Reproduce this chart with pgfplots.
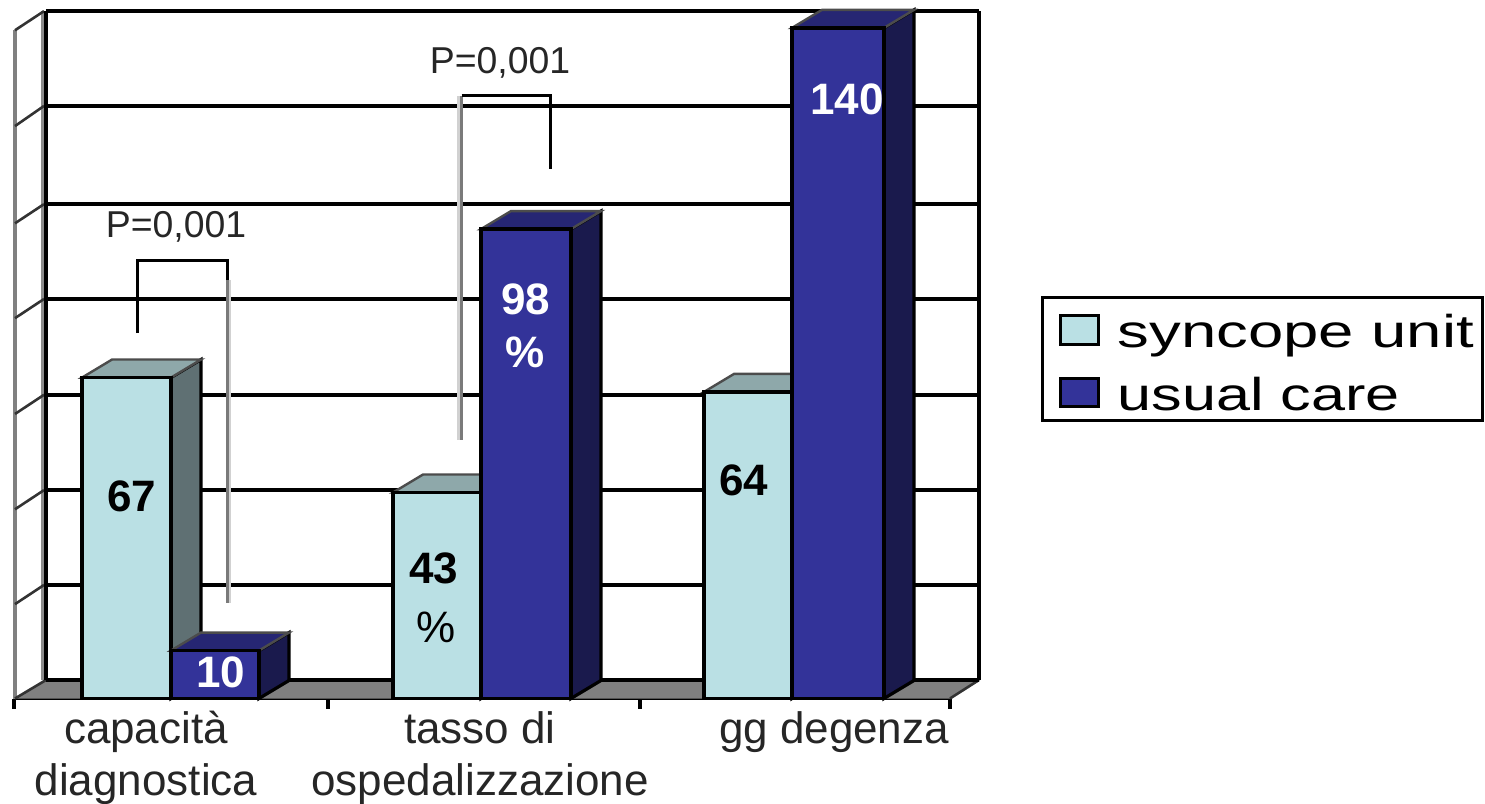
\documentclass[border=0pt]{standalone}
\usepackage{graphicx}
\usepackage{fontspec}
\setmainfont{Liberation Sans}
\usepackage{pgfplots}
\pgfplotsset{compat=1.18}

\definecolor{lightfront}{RGB}{186,224,228}
\definecolor{lighttop}{RGB}{142,168,170}
\definecolor{lightside}{RGB}{95,112,115}
\definecolor{bluefront}{RGB}{51,51,153}
\definecolor{bluetop}{RGB}{38,38,115}
\definecolor{blueside}{RGB}{26,26,77}

% One 3D column: left x, right x, value, then front, top and side colours.
\newcommand{\columnthreed}[6]{%
  \pgfmathsetmacro{\xa}{#1+30}%
  \pgfmathsetmacro{\xb}{#2+30}%
  \pgfmathsetmacro{\vb}{#3+3.76}%
  \addplot[forget plot,fill=#6,draw=black,line width=1.6pt] coordinates {(#2,0) (\xb,3.76) (\xb,\vb) (#2,#3)} --cycle;
  \addplot[forget plot,fill=#5,draw=black!70,line width=1.2pt] coordinates {(#1,#3) (#2,#3) (\xb,\vb) (\xa,\vb)} --cycle;
  \addplot[forget plot,fill=#4,draw=black,line width=1.7pt] coordinates {(#1,0) (#2,0) (#2,#3) (#1,#3)} --cycle;
}
% A significance bracket leg that fades to grey: light edge, then grey core.
\newcommand{\greyleg}[4]{%
  \addplot[forget plot,draw=black!18,line width=2.2pt] coordinates {(#1,#3) (#1,#4)};
  \addplot[forget plot,draw=black!52,line width=1.5pt] coordinates {(#2,#3) (#2,#4)};
}
% Legend text, widened as it appears in the key.
\newcommand{\keytext}[2]{\hspace{7pt}\makebox[172.4pt][l]{\raisebox{-2.5pt}[\height][\depth]{\scalebox{#1}[1]{#2}}}}

\begin{document}
\begin{tikzpicture}
\path[use as bounding box] (-7pt,-52.75pt) rectangle (735.5pt,349.25pt);
\begin{axis}[
  anchor=south west,
  at={(0pt,0pt)},
  scale only axis,
  width=468pt,
  height=349.25pt,
  xmin=14, xmax=950,
  ymin=0, ymax=145.82,
  clip=false,
  axis x line*=bottom,
  axis y line=none,
  axis line style={line width=1.7pt,-},
  tick align=outside,
  xtick={146,480,834},
  xticklabels={{capacità\\[1pt]diagnostica},{tasso di\\[1pt]ospedalizzazione},{gg degenza}},
  major tick length=0pt,
  xticklabel style={font=\fontsize{22}{25}\selectfont,align=center,anchor=north,yshift=-3pt,text=black!85},
  extra x ticks={14,328,640,950},
  extra x tick labels={},
  extra x tick style={major tick length=5pt,tick style={line width=1.6pt,black}},
  legend style={
    at={(axis cs:1041,84.03)},anchor=north west,
    draw=black,line width=1.6pt,
    inner xsep=8pt,inner ysep=4pt,
    font=\fontsize{23}{26}\selectfont,
    legend cell align=left,
    row sep=9pt,
  },
  legend image code/.code={\draw[#1,line width=1.5pt] (0pt,-8.4pt) rectangle (19pt,6pt);},
]
\addlegendimage{fill=lightfront,draw=black}
\addlegendentry{\keytext{1.38}{syncope unit}}
\addlegendimage{fill=bluefront,draw=black}
\addlegendentry{\keytext{1.33}{usual care}}

% floor of the chart
\addplot[forget plot,fill=black!50,draw=none] coordinates {(14,0) (950,0) (980,3.86) (46,3.86)} --cycle;

% side wall: two uprights and its slanted gridline stubs
\addplot[forget plot,draw=black!50,line width=2.2pt] coordinates {(15,0) (15,139.5)};
\addplot[forget plot,draw=black!45,line width=2.2pt] coordinates {(43,3.86) (43,143.5)};
\addplot[forget plot,draw=black!80,line width=1.3pt] coordinates {(15,119.5) (44,123.7)};
\addplot[forget plot,draw=black!80,line width=1.3pt] coordinates {(15,99.2) (44,103.2)};
\addplot[forget plot,draw=black!80,line width=1.3pt] coordinates {(15,79.4) (44,83.4)};
\addplot[forget plot,draw=black!80,line width=1.3pt] coordinates {(15,59.4) (44,63.4)};
\addplot[forget plot,draw=black!80,line width=1.3pt] coordinates {(15,39.5) (44,43.5)};
\addplot[forget plot,draw=black!80,line width=1.3pt] coordinates {(15,19.7) (44,23.7)};
\addplot[forget plot,draw=black!80,line width=1.3pt] coordinates {(15,139.5) (44,143.5)};
\addplot[forget plot,draw=black!80,line width=1.3pt] coordinates {(15,0) (46,3.86)};
\addplot[forget plot,draw=black!80,line width=1.3pt] coordinates {(950,0) (979,3.86)};

% back wall: gridlines and its frame
\addplot[forget plot,draw=black,line width=1.7pt] coordinates {(46,3.86) (979,3.86)};
\addplot[forget plot,draw=black,line width=1.7pt] coordinates {(46,23.7) (979,23.7)};
\addplot[forget plot,draw=black,line width=1.7pt] coordinates {(46,43.5) (979,43.5)};
\addplot[forget plot,draw=black,line width=1.7pt] coordinates {(46,63.4) (979,63.4)};
\addplot[forget plot,draw=black,line width=1.7pt] coordinates {(46,83.4) (979,83.4)};
\addplot[forget plot,draw=black,line width=1.7pt] coordinates {(46,103.2) (979,103.2)};
\addplot[forget plot,draw=black,line width=1.7pt] coordinates {(46,123.7) (979,123.7)};
\addplot[forget plot,draw=black,line width=1.7pt] coordinates {(46,143.5) (979,143.5)};
\addplot[forget plot,draw=black,line width=1.7pt] coordinates {(46,3.86) (46,143.5)};
\addplot[forget plot,draw=black,line width=1.7pt] coordinates {(979,3.86) (979,143.5)};

% significance brackets
\greyleg{229}{227.5}{87.4}{19.9}
\addplot[forget plot,draw=black,line width=1.5pt] coordinates {(138,76.3) (138,91.5) (227.5,91.5) (227.5,87.4)};
\greyleg{459.5}{461.5}{125.8}{54}
\addplot[forget plot,draw=black,line width=1.5pt] coordinates {(461.5,125.8) (550,125.8) (550,110.5)};

% capacità diagnostica
\columnthreed{82}{171}{67}{lightfront}{lighttop}{lightside}
\columnthreed{171}{259}{10}{bluefront}{bluetop}{blueside}
% tasso di ospedalizzazione
\columnthreed{393}{481}{43}{lightfront}{lighttop}{lightside}
\columnthreed{481}{571}{98}{bluefront}{bluetop}{blueside}
% gg degenza
\columnthreed{704}{792}{64}{lightfront}{lighttop}{lightside}
\columnthreed{792}{884}{140}{bluefront}{bluetop}{blueside}

% value labels
\begin{scope}[every node/.style={font=\fontsize{22}{26}\selectfont\bfseries}]
\node[text=black] at (axis cs:132,42.3) {67};
\node[text=white] at (axis cs:221,5.5) {10};
\node[text=black] at (axis cs:434,27.2) {43};
\node[text=black,font=\fontsize{22}{26}\selectfont] at (axis cs:436,14.9) {\%};
\node[text=white] at (axis cs:526,83.4) {98};
\node[text=white] at (axis cs:525,72.3) {\%};
\node[text=black] at (axis cs:744,45.6) {64};
\node[text=white] at (axis cs:847,125) {140};
\end{scope}

% p-values
\node[font=\fontsize{18.7}{22}\selectfont,text=black!85] at (axis cs:176,98.4) {P=0,001};
\node[font=\fontsize{18.7}{22}\selectfont,text=black!85] at (axis cs:500,132.7) {P=0,001};
\end{axis}
\end{tikzpicture}
\end{document}
